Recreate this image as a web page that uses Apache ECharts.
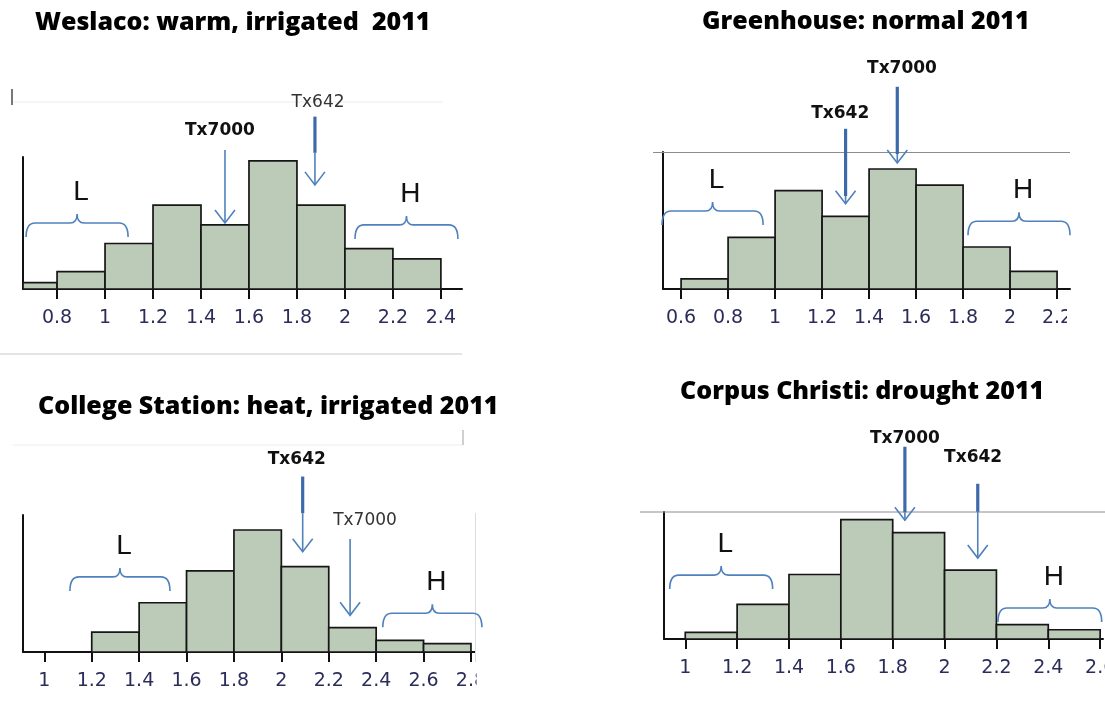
<!DOCTYPE html>
<html>
<head>
<meta charset="utf-8">
<script src="https://cdn.jsdelivr.net/npm/echarts@6/dist/echarts.min.js"></script>
<style>
  html, body { margin: 0; padding: 0; background: #ffffff; }
  #chart { width: 1105px; height: 708px; }
</style>
</head>
<body>
<div id="chart"></div>
<script>
// Panel titles
const titles = [
  'Weslaco: warm, irrigated  2011',
  'Greenhouse: normal 2011',
  'College Station: heat, irrigated 2011',
  'Corpus Christi: drought 2011'
];

// Histogram bins (left edge, width 0.2) and counts per site
const binStartsWeslaco = [0.6, 0.8, 1.0, 1.2, 1.4, 1.6, 1.8, 2.0, 2.2];
const countsWeslaco    = [1.0, 2.7, 7.1, 13.1, 10.0, 20.0, 13.1, 6.3, 4.7];

const binStartsGreenhouse = [0.6, 0.8, 1.0, 1.2, 1.4, 1.6, 1.8, 2.0];
const countsGreenhouse    = [1.7, 8.6, 16.4, 12.1, 20.0, 17.3, 7.0, 2.95];

const binStartsCollege = [1.2, 1.4, 1.6, 1.8, 2.0, 2.2, 2.4, 2.6];
const countsCollege    = [3.3, 8.2, 13.5, 20.3, 14.2, 4.05, 1.95, 1.4];

const binStartsCorpus = [1.0, 1.2, 1.4, 1.6, 1.8, 2.0, 2.2, 2.4];
const countsCorpus    = [1.1, 5.8, 10.8, 20.0, 17.8, 11.55, 2.4, 1.55];

// Tick labels on the x axes
const ticksWeslaco    = [0.8, 1, 1.2, 1.4, 1.6, 1.8, 2, 2.2, 2.4];
const ticksGreenhouse = [0.6, 0.8, 1, 1.2, 1.4, 1.6, 1.8, 2, 2.2];
const ticksCollege    = [1, 1.2, 1.4, 1.6, 1.8, 2, 2.2, 2.4, 2.6, 2.8];
const ticksCorpus     = [1, 1.2, 1.4, 1.6, 1.8, 2, 2.2, 2.4, 2.6];

// Cultivar markers: [x, arrow top, end of heavy stroke, arrow tip, label x, label y]
const cultivarNames = ['Tx7000', 'Tx642'];
const markersWeslaco    = [[1.5, 21.7, 21.7, 10.3, 1.479, 24.8], [1.875, 26.9, 21.25, 16.25, 1.888, 29.1]];
const markersGreenhouse = [[1.52, 33.7, 22.5, 21.0, 1.54, 36.8], [1.3, 26.7, 15.5, 14.2, 1.277, 29.3]];
const markersCollege    = [[2.29, 18.8, 18.8, 6.1, 2.353, 21.95], [2.09, 29.2, 23.1, 16.7, 2.065, 31.95]];
const markersCorpus     = [[1.847, 32.2, 21.2, 19.9, 1.847, 33.55], [2.128, 26.0, 21.3, 13.55, 2.11, 30.4]];

// Low / high groups: [from, to, height]
const groupNames = ['L', 'H'];
const groupsWeslaco    = [[0.671, 1.096, 10.3], [2.042, 2.471, 10.0]];
const groupsGreenhouse = [[0.519, 0.949, 13.0], [1.821, 2.255, 11.3]];
const groupsCollege    = [[1.108, 1.53, 12.5], [2.428, 2.846, 6.45]];
const groupsCorpus     = [[0.94, 1.337, 10.7], [2.206, 2.606, 5.2]];

// Layout of the four panels
const panels = [
  { bins: binStartsWeslaco, counts: countsWeslaco, ticks: ticksWeslaco, markers: markersWeslaco, groups: groupsWeslaco,
    grid: { left: 23, top: 157, width: 439, height: 132 }, xMin: 0.658, xMax: 2.488, yMax: 20.6,
    boldLabel: [true, false] },
  { bins: binStartsGreenhouse, counts: countsGreenhouse, ticks: ticksGreenhouse, markers: markersGreenhouse, groups: groupsGreenhouse,
    grid: { left: 663, top: 152, width: 407, height: 137 }, xMin: 0.523, xMax: 2.255, yMax: 22.83,
    boldLabel: [true, true] },
  { bins: binStartsCollege, counts: countsCollege, ticks: ticksCollege, markers: markersCollege, groups: groupsCollege,
    grid: { left: 23, top: 515, width: 452, height: 137 }, xMin: 0.91, xMax: 2.817, yMax: 22.8,
    boldLabel: [false, true] },
  { bins: binStartsCorpus, counts: countsCorpus, ticks: ticksCorpus, markers: markersCorpus, groups: groupsCorpus,
    grid: { left: 664, top: 512, width: 439, height: 127 }, xMin: 0.918, xMax: 2.611, yMax: 21.27,
    boldLabel: [true, true] }
];

const BIN_WIDTH = 0.2;
const BAR_FILL = '#bccbb8';
const BLUE = '#4f81bd';
const BLUE_DARK = '#3d68aa';
const TICK_COLOR = '#2c2c5a';

const grids = [], xAxes = [], yAxes = [], series = [];

panels.forEach((p, i) => {
  grids.push(Object.assign({ containLabel: false, outerBoundsMode: 'none' }, p.grid));
  xAxes.push({
    type: 'value', gridIndex: i, min: p.xMin, max: p.xMax,
    axisLine: { show: true, onZero: false, lineStyle: { color: '#111', width: 2 } },
    axisTick: { show: true, customValues: p.ticks, length: 10, lineStyle: { color: '#111', width: 2 } },
    axisLabel: { show: true, customValues: p.ticks, margin: 20, color: TICK_COLOR,
      fontFamily: 'DejaVu Sans', fontSize: 19, alignMinLabel: 'center', alignMaxLabel: 'center',
      hideOverlap: false, formatter: v => String(v) },
    splitLine: { show: false }
  });
  yAxes.push({
    type: 'value', gridIndex: i, min: 0, max: p.yMax,
    axisLine: { show: true, lineStyle: { color: '#111', width: 2 } },
    axisTick: { show: false }, axisLabel: { show: false }, splitLine: { show: false }
  });

  // histogram bars
  series.push({
    type: 'custom', xAxisIndex: i, yAxisIndex: i, z: 2, clip: false,
    data: p.bins.map((b, k) => [b, b + BIN_WIDTH, p.counts[k]]),
    renderItem: (params, api) => {
      const x0 = Math.max(api.value(0), p.xMin);
      const a = api.coord([x0, 0]);
      const b = api.coord([api.value(1), api.value(2)]);
      return {
        type: 'rect',
        shape: { x: a[0], y: b[1], width: b[0] - a[0], height: a[1] - b[1] },
        style: { fill: BAR_FILL, stroke: '#161616', lineWidth: 1.7 }
      };
    }
  });

  // L / H braces
  series.push({
    type: 'custom', xAxisIndex: i, yAxisIndex: i, z: 20, clip: false,
    data: p.groups,
    renderItem: (params, api) => {
      const a = api.coord([api.value(0), api.value(2)]);
      const b = api.coord([api.value(1), api.value(2)]);
      const y = a[1], x0 = a[0], x1 = b[0], xc = (x0 + x1) / 2;
      const path = `M${x0},${y + 14} Q${x0},${y} ${x0 + 9},${y} L${xc - 7},${y} Q${xc},${y} ${xc},${y - 9} ` +
                   `Q${xc},${y} ${xc + 7},${y} L${x1 - 9},${y} Q${x1},${y} ${x1},${y + 14}`;
      return {
        type: 'group',
        children: [
          { type: 'path', shape: { pathData: path }, style: { fill: null, stroke: BLUE, lineWidth: 1.6 } },
          { type: 'text', x: xc + 4, y: y - 31,
            style: { text: groupNames[params.dataIndex], fill: '#111', font: '28px "Liberation Sans"',
                     textAlign: 'center', textVerticalAlign: 'middle' } }
        ]
      };
    }
  });

  // cultivar arrows
  series.push({
    type: 'custom', xAxisIndex: i, yAxisIndex: i, z: 20, clip: false,
    data: p.markers,
    renderItem: (params, api) => {
      const x = api.value(0);
      const top = api.coord([x, api.value(1)]);
      const heavy = api.coord([x, api.value(2)]);
      const tip = api.coord([x, api.value(3)]);
      const lab = api.coord([api.value(4), api.value(5)]);
      const bold = p.boldLabel[params.dataIndex];
      const children = [];
      if (heavy[1] > top[1]) {
        children.push({ type: 'line', shape: { x1: top[0], y1: top[1], x2: heavy[0], y2: heavy[1] },
          style: { stroke: BLUE_DARK, lineWidth: 3.2 } });
      }
      children.push({ type: 'line', shape: { x1: heavy[0], y1: heavy[1], x2: tip[0], y2: tip[1] },
        style: { stroke: BLUE, lineWidth: 1.6 } });
      children.push({ type: 'polyline', shape: { points: [[tip[0] - 10, tip[1] - 13], [tip[0], tip[1]], [tip[0] + 10, tip[1] - 13]] },
        style: { fill: null, stroke: BLUE, lineWidth: 1.6 } });
      children.push({ type: 'text', x: lab[0], y: lab[1],
        style: { text: cultivarNames[params.dataIndex],
                 font: (bold ? 'bold ' : '') + '17px "DejaVu Sans"',
                 fill: bold ? '#111' : '#333', textAlign: 'center', textVerticalAlign: 'middle' } });
      return { type: 'group', children: children };
    }
  });
});

// Frame lines around the panels, titles, and masks over cut-off tick labels
const titleFont = '800 25px "Open Sans"';
const graphic = [
  { type: 'text', x: 35, y: 23, z: 50, style: { text: titles[0], font: titleFont, fill: '#000', textVerticalAlign: 'middle' } },
  { type: 'text', x: 702, y: 22, z: 50, style: { text: titles[1], font: titleFont, fill: '#000', textVerticalAlign: 'middle' } },
  { type: 'text', x: 38, y: 407, z: 50, style: { text: titles[2], font: titleFont, fill: '#000', textVerticalAlign: 'middle' } },
  { type: 'text', x: 680, y: 392, z: 50, style: { text: titles[3], font: titleFont, fill: '#000', textVerticalAlign: 'middle' } },

  { type: 'line', z: 1, shape: { x1: 13, y1: 102, x2: 443, y2: 102 }, style: { stroke: '#ececec', lineWidth: 1 } },
  { type: 'line', z: 1, shape: { x1: 12, y1: 89, x2: 12, y2: 105 }, style: { stroke: '#777', lineWidth: 2 } },
  { type: 'line', z: 1, shape: { x1: 0, y1: 354, x2: 462, y2: 354 }, style: { stroke: '#e4e4e4', lineWidth: 2 } },
  { type: 'line', z: 1, shape: { x1: 653, y1: 152.5, x2: 1070, y2: 152.5 }, style: { stroke: '#8c8c8c', lineWidth: 1 } },
  { type: 'line', z: 1, shape: { x1: 13, y1: 445, x2: 463, y2: 445 }, style: { stroke: '#ececec', lineWidth: 1 } },
  { type: 'line', z: 1, shape: { x1: 463, y1: 430, x2: 463, y2: 445 }, style: { stroke: '#d0d0d0', lineWidth: 2 } },
  { type: 'line', z: 1, shape: { x1: 475.5, y1: 513, x2: 475.5, y2: 662 }, style: { stroke: '#dcdcdc', lineWidth: 1 } },
  { type: 'line', z: 1, shape: { x1: 640, y1: 512, x2: 1105, y2: 512 }, style: { stroke: '#8c8c8c', lineWidth: 1 } },

  { type: 'rect', z: 10, shape: { x: 1067, y: 292, width: 38, height: 50 }, style: { fill: '#fff' } },
  { type: 'rect', z: 10, shape: { x: 476.5, y: 655, width: 30, height: 40 }, style: { fill: '#fff' } }
];

const chart = echarts.init(document.getElementById('chart'), null, { renderer: 'canvas' });
chart.setOption({
  animation: false,
  backgroundColor: '#ffffff',
  grid: grids,
  xAxis: xAxes,
  yAxis: yAxes,
  series: series,
  graphic: graphic
});
</script>
</body>
</html>
